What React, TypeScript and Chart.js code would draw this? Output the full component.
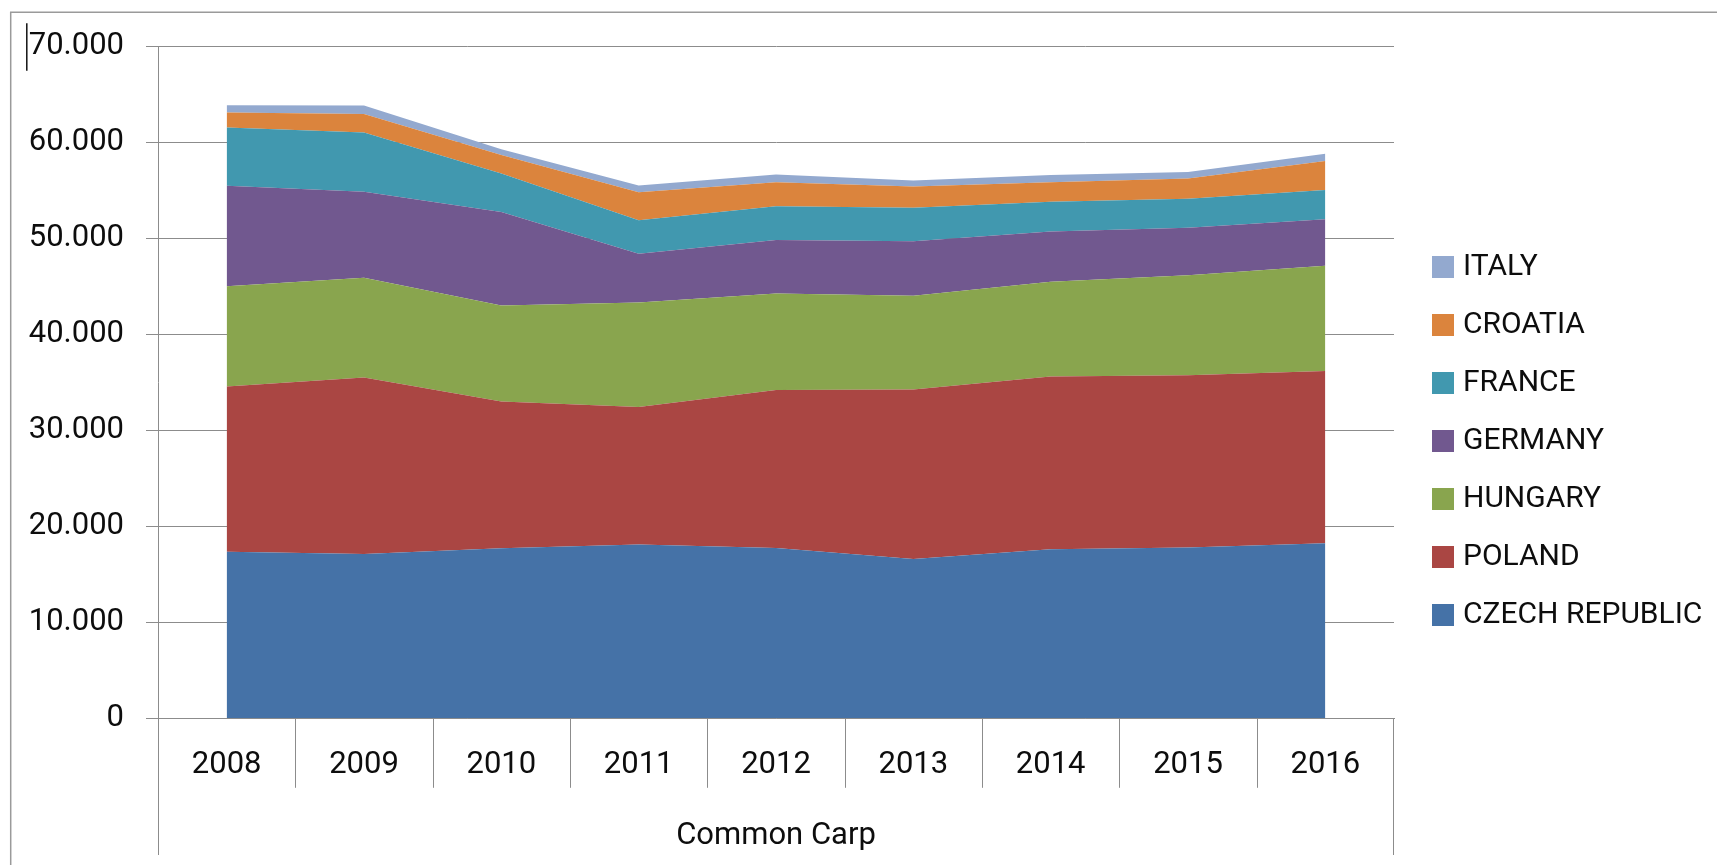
import React, { useEffect, useRef } from 'react';
import { Chart, registerables } from 'chart.js';

Chart.register(...registerables);

// ---------- data ----------
const years = ['2008', '2009', '2010', '2011', '2012', '2013', '2014', '2015', '2016'];

const czechRepublic = [17360, 17120, 17710, 18100, 17750, 16600, 17600, 17780, 18230];
const poland = [17190, 18370, 15280, 14320, 16450, 17660, 18000, 17960, 17950];
const hungary = [10450, 10390, 10010, 10880, 10050, 9760, 9870, 10410, 10950];
const germany = [10470, 8960, 9750, 5080, 5580, 5670, 5250, 4960, 4850];
const france = [6060, 6170, 4010, 3490, 3520, 3480, 3080, 3020, 3050];
const croatia = [1570, 1950, 1920, 2920, 2500, 2230, 2040, 2090, 3030];
const italy = [770, 870, 590, 700, 800, 630, 760, 690, 760];

const seriesNames = ['CZECH REPUBLIC', 'POLAND', 'HUNGARY', 'GERMANY', 'FRANCE', 'CROATIA', 'ITALY'];
const seriesValues = [czechRepublic, poland, hungary, germany, france, croatia, italy];
const seriesColors = ['#4572A7', '#AA4643', '#89A54E', '#71588F', '#4198AF', '#DB843D', '#93A9CF'];

const yMin = 0;
const yMax = 70000;
const yStep = 10000;
const axisTitle = 'Common Carp';

// ---------- layout ----------
const W = 1717;
const H = 865;
const PLOT_LEFT = 158;
const PLOT_RIGHT = 1394;
const PLOT_BOTTOM = 718.3;
const GRID = '#8c8c8c';
const TEXT = '#0d0d0d';
const FONT = 'Roboto';
const LEGEND_FONT = 30;
const LEGEND_SQ = 22;
const LEGEND_SLOT = 26; // legend symbol slot width (text starts after it)
const LEGEND_SHIFT = 16; // transparent lead-in inside the symbol image
const LEGEND_PAD = 28;

const fmt = (v: number) => String(v).replace(/\B(?=(\d{3})+(?!\d))/g, '.');

const framePlugin = {
  id: 'excelFrame',
  beforeDraw(chart: any) {
    const ctx = chart.ctx;
    ctx.save();
    ctx.fillStyle = '#ffffff';
    ctx.fillRect(0, 0, W, H);
    ctx.strokeStyle = '#9a9a9a';
    ctx.lineWidth = 1.5;
    ctx.beginPath();
    ctx.moveTo(10.7, H);
    ctx.lineTo(10.7, 12.3);
    ctx.lineTo(W, 12.3);
    ctx.stroke();
    ctx.restore();
  },
  afterDraw(chart: any) {
    const ctx = chart.ctx;
    const xs = chart.scales.x;
    const area = chart.chartArea;
    const n = xs.ticks.length;
    const step = (xs.right - xs.left) / n;
    ctx.save();
    ctx.strokeStyle = GRID;
    ctx.lineWidth = 1;
    ctx.beginPath();
    for (let i = 1; i < n; i++) {
      const px = Math.round(xs.left + i * step) + 0.5;
      ctx.moveTo(px, area.bottom);
      ctx.lineTo(px, area.bottom + 69.5);
    }
    const lx = Math.round(xs.left) + 0.5;
    const rx = Math.round(xs.right) - 0.5;
    ctx.moveTo(lx, area.bottom);
    ctx.lineTo(lx, 855);
    ctx.moveTo(rx, area.bottom);
    ctx.lineTo(rx, 855);
    ctx.stroke();
    // text cursor mark next to the top tick label
    ctx.strokeStyle = '#111111';
    ctx.lineWidth = 1.5;
    ctx.beginPath();
    ctx.moveTo(26.8, 23.3);
    ctx.lineTo(26.8, 70.7);
    ctx.stroke();
    ctx.restore();
  },
};

function makeSwatch(color: string): HTMLCanvasElement {
  const c = document.createElement('canvas');
  c.width = LEGEND_SHIFT + LEGEND_SQ;
  c.height = LEGEND_SQ;
  const g = c.getContext('2d');
  if (g) {
    g.fillStyle = color;
    g.fillRect(LEGEND_SHIFT, 0, LEGEND_SQ, LEGEND_SQ);
  }
  return c;
}

function legendRightPadding(): number {
  const c = document.createElement('canvas').getContext('2d');
  if (!c) return 0;
  c.font = `${LEGEND_FONT}px ${FONT}`;
  const maxText = Math.max(...seriesNames.map((s) => c.measureText(s).width));
  const legendW = LEGEND_PAD + LEGEND_SLOT + LEGEND_FONT / 2 + maxText + 10;
  return Math.max(0, W - PLOT_RIGHT - legendW);
}

export default function App() {
  const ref = useRef<HTMLCanvasElement>(null);

  useEffect(() => {
    const canvas = ref.current;
    if (!canvas) return;
    const datasets = seriesValues.map((vals, i) => ({
      label: seriesNames[i],
      data: vals,
      backgroundColor: seriesColors[i],
      borderColor: seriesColors[i],
      borderWidth: 0,
      pointRadius: 0,
      pointHoverRadius: 0,
      pointStyle: makeSwatch(seriesColors[i]),
      fill: i === 0 ? 'origin' : '-1',
      tension: 0,
    }));

    const chart = new Chart(canvas, {
      type: 'line',
      data: { labels: years, datasets },
      options: {
        responsive: false,
        animation: false,
        devicePixelRatio: 1,
        layout: { padding: { top: 17.6, left: 0, right: legendRightPadding(), bottom: 0 } },
        plugins: {
          title: {
            display: true,
            text: ' ',
            font: { size: 10, lineHeight: 1.2 },
            padding: { top: 16.7, bottom: 0 },
          },
          legend: {
            position: 'right',
            align: 'center',
            reverse: true,
            labels: {
              usePointStyle: true,
              pointStyleWidth: LEGEND_SLOT,
              boxWidth: LEGEND_SLOT,
              boxHeight: LEGEND_SQ,
              padding: LEGEND_PAD,
              color: TEXT,
              font: { family: FONT, size: LEGEND_FONT },
            },
          },
          tooltip: { enabled: false },
        },
        scales: {
          x: {
            type: 'category',
            offset: true,
            grid: { display: false, drawTicks: false, tickLength: 0 },
            border: { display: true, color: GRID, width: 1 },
            ticks: {
              padding: 28,
              color: TEXT,
              font: { family: FONT, size: 31 },
              maxRotation: 0,
              autoSkip: false,
            },
            title: {
              display: true,
              text: axisTitle,
              color: TEXT,
              font: { family: FONT, size: 31 },
              padding: { top: 0, bottom: 10.5 },
            },
            afterFit: (s: any) => {
              s.height = H - PLOT_BOTTOM;
            },
          },
          y: {
            stacked: true,
            min: yMin,
            max: yMax,
            ticks: {
              stepSize: yStep,
              padding: 22,
              color: TEXT,
              font: { family: FONT, size: 31 },
              callback: (v: any) => fmt(Number(v)),
            },
            grid: { color: GRID, lineWidth: 1, drawTicks: true, tickLength: 12 },
            border: { display: true, color: GRID, width: 1 },
            afterFit: (s: any) => {
              s.width = PLOT_LEFT;
            },
          },
        },
      } as any,
      plugins: [framePlugin],
    });
    return () => chart.destroy();
  }, []);

  return (
    <div style={{ position: 'fixed', left: 0, top: 0, width: W, height: H, background: '#fff' }}>
      <canvas ref={ref} width={W} height={H} style={{ display: 'block', width: W, height: H }} />
    </div>
  );
}
